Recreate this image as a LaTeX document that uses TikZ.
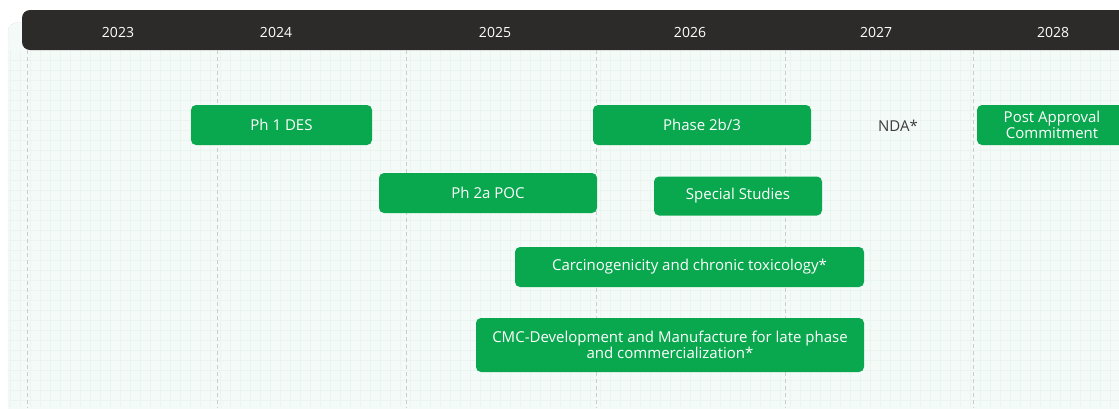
\documentclass[tikz,border=0pt]{standalone}
\usepackage{fontspec}
\setmainfont{Open Sans}
\definecolor{barblack}{RGB}{45,42,42}
\definecolor{phasegreen}{RGB}{10,168,78}
\definecolor{panelbg}{RGB}{243,250,247}
\definecolor{gridline}{RGB}{235,245,240}
\definecolor{ndagray}{RGB}{60,60,60}
\begin{document}
\begin{tikzpicture}[x=1pt, y=-1pt,
  phase/.style={rectangle, rounded corners=5pt, fill=phasegreen, text=white, inner sep=0pt, align=center, font=\fontsize{15}{15}\selectfont},
  yearlabel/.style={text=white, font=\fontsize{14}{16}\selectfont}]
\useasboundingbox (0,0) rectangle (1119,408);
% background panel
\draw[dotted, gray!60, fill=panelbg, rounded corners=10pt] (8,22) rectangle (1135,420);
\foreach \gx in {10,20,...,1110}
  \draw[gridline, ultra thin] (\gx,50) -- (\gx,407);
\foreach \gy in {60,70,...,400}
  \draw[gridline, ultra thin] (9,\gy) -- (1119,\gy);
% year bar
\fill[barblack, rounded corners=8pt] (22,10) rectangle (1140,50);
\node[yearlabel] (y2023) at (118,32){2023};
\node[yearlabel] (y2024) at (276,32){2024};
\node[yearlabel] (y2025) at (495,32){2025};
\node[yearlabel] (y2026) at (690,32){2026};
\node[yearlabel] (y2027) at (876,32){2027};
\node[yearlabel] (y2028) at (1053,32){2028};
% year dividers
\foreach \xx in {27,217,406,596,785,973}
  \draw[gray!40, dash pattern=on 4pt off 3pt] (\xx,50) -- (\xx,408);
% phases
\node[phase, minimum width=181, minimum height=40] (ph1) at (281.5,125){Ph 1 DES};
\node[phase, minimum width=218, minimum height=40] (ph2b) at (702,125){Phase 2b/3};
\node[text=ndagray, font=\fontsize{15}{16}\selectfont] (nda) at (898,126){NDA*};
\node[phase, minimum width=150, minimum height=40, font=\fontsize{15}{13}\selectfont] (post) at (1052,125){Post Approval\\Commitment};
\node[phase, minimum width=218, minimum height=40] (ph2a) at (488,193){Ph 2a POC};
\node[phase, minimum width=168, minimum height=39] (spec) at (738,196){Special Studies};
\node[phase, minimum width=349, minimum height=40] (carc) at (689.5,267){Carcinogenicity and chronic toxicology*};
\node[phase, minimum width=388, minimum height=54, font=\fontsize{15}{16}\selectfont] (cmc) at (670,345){CMC-Development and Manufacture for late phase\\and commercialization*};
\end{tikzpicture}
\end{document}
